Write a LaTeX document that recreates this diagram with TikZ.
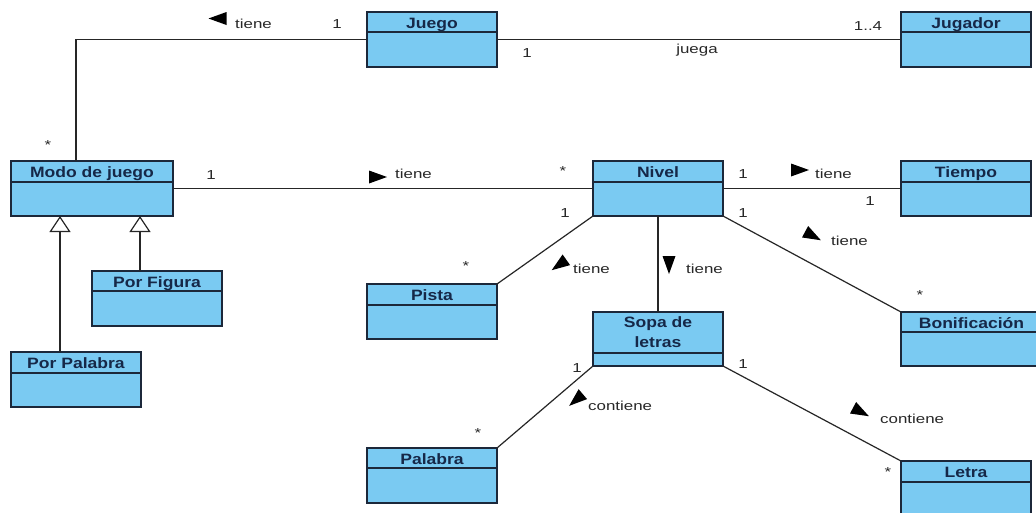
\documentclass[tikz,border=0pt]{standalone}
\usepackage{fontspec}
\setmainfont{Liberation Sans}
\newfontfamily\titlefont[FakeStretch=1.17]{Liberation Sans}
\newfontfamily\labelfont[FakeStretch=1.3]{Liberation Sans}
\usetikzlibrary{arrows.meta}

\definecolor{classfill}{RGB}{122,202,242}
\definecolor{classedge}{RGB}{28,40,58}
\definecolor{titleink}{RGB}{22,40,72}
\definecolor{labelink}{RGB}{40,40,40}

\tikzset{
  classbox/.style={draw=classedge, fill=classfill, line width=1.4pt,
    inner sep=0pt, outer sep=0pt, anchor=north west},
  classdiv/.style={draw=classedge, line width=1.2pt},
  classtitle/.style={font=\titlefont\bfseries\fontsize{15}{20}\selectfont,
    text=titleink, inner sep=0pt, align=center, anchor=base},
  assoc/.style={line width=1.2pt, draw=black!85},
  lbl/.style={font=\labelfont\fontsize{13}{13}\selectfont, text=labelink,
    inner sep=0pt, anchor=base west},
  mult/.style={font=\labelfont\fontsize{13}{13}\selectfont, text=labelink,
    inner sep=0pt, anchor=base},
  gen/.style={assoc, -{Triangle[open, length=16pt, width=21pt, fill=white]}},
  dirarrow/.pic={\fill[black] (9,0) -- (-9,6.5) -- (-9,-6.5) -- cycle;}
}

% class box: name, left, top, right, bottom, divider y, baseline of last title line, title
\newcommand{\umlclass}[8]{%
  \node[classbox, minimum width={#4-#2}, minimum height={#5-#3}] (#1) at (#2,#3) {};
  \draw[classdiv] (#2,#6) -- (#4,#6);
  \node[classtitle] (#1-title) at ({(#2+#4)/2},{#7}) {#8};
}

\begin{document}
\begin{tikzpicture}[x=1pt,y=-1pt]
\useasboundingbox (0,0) rectangle (1036,512);
\clip (0,0) rectangle (1036,512);
\fill[white] (0,0) rectangle (1036,512);

% classes
\umlclass{juego}{367}{12}{497}{67}{32}{28.5}{Juego}
\umlclass{jugador}{901}{12}{1031}{67}{32}{28.5}{Jugador}
\umlclass{modo}{11}{161}{173}{216}{182}{177.5}{Modo de juego}
\umlclass{nivel}{593}{161}{723}{216}{182}{177.5}{Nivel}
\umlclass{tiempo}{901}{161}{1031}{216}{182}{177.5}{Tiempo}
\umlclass{figura}{92}{271}{222}{326}{291}{287.5}{Por Figura}
\umlclass{porpalabra}{11}{352}{141}{407}{373}{368.5}{Por Palabra}
\umlclass{pista}{367}{284}{497}{339}{305}{300.5}{Pista}
\umlclass{sopa}{593}{312}{723}{366}{353}{347.5}{Sopa de\\letras}
\umlclass{bonif}{901}{312}{1042}{366}{332}{328.5}{Bonificación}
\umlclass{palabra}{367}{448}{497}{503}{468}{464.5}{Palabra}
\umlclass{letra}{901}{461}{1031}{516}{482}{477.5}{Letra}

% associations
\draw[assoc] (juego.east) -- (jugador.west);
\draw[assoc] (juego.west) -| ([xshift=-16pt]modo.north);
\draw[assoc] (modo.east) -- (nivel.west);
\draw[assoc] (nivel.east) -- (tiempo.west);
\draw[assoc] (nivel.south west) -- (pista.north east);
\draw[assoc] (nivel.south) -- (sopa.north);
\draw[assoc] (nivel.south east) -- (bonif.north west);
\draw[assoc] (sopa.south west) -- (palabra.north east);
\draw[assoc] (sopa.south east) -- (letra.north west);

% generalizations
\coordinate (g1) at ([xshift=-16pt]porpalabra.north);
\coordinate (g2) at ([xshift=-17pt]figura.north);
\draw[gen] (g1) -- (g1 |- modo.south);
\draw[gen] (g2) -- (g2 |- modo.south);

% reading-direction marks
\pic[rotate=180] at (217.5,18.5) {dirarrow};
\pic at (378,177) {dirarrow};
\pic at (800,170) {dirarrow};
\pic[rotate=-90] at (669,265) {dirarrow};
\pic[rotate=-28.3] at (813,236) {dirarrow};
\pic[rotate=-144.7] at (559,265) {dirarrow};
\pic[rotate=-139.5] at (576,400) {dirarrow};
\pic[rotate=-28.1] at (861,412) {dirarrow};

% association names
\node[lbl] (l1) at (235,28) {tiene};
\node[mult] (l2) at (697,53) {juega};
\node[lbl] (l3) at (395,178) {tiene};
\node[lbl] (l4) at (815,178) {tiene};
\node[lbl] (l5) at (831,245) {tiene};
\node[lbl] (l6) at (573,273) {tiene};
\node[lbl] (l7) at (686,273) {tiene};
\node[lbl] (l8) at (588,410) {contiene};
\node[lbl] (l9) at (880,423) {contiene};

% multiplicities
\node[mult] (m1) at (337,28) {1};
\node[mult] (m2) at (527,57) {1};
\node[mult] (m3) at (868,30) {1..4};
\node[mult] (m4) at (48,149) {*};
\node[mult] (m5) at (211,179) {1};
\node[mult] (m6) at (563,175) {*};
\node[mult] (m7) at (743,178) {1};
\node[mult] (m8) at (870,205) {1};
\node[mult] (m9) at (565,217) {1};
\node[mult] (m10) at (743,217) {1};
\node[mult] (m11) at (466,270) {*};
\node[mult] (m12) at (920,299) {*};
\node[mult] (m13) at (577,372) {1};
\node[mult] (m14) at (743,368) {1};
\node[mult] (m15) at (478,437) {*};
\node[mult] (m16) at (888,476) {*};
\end{tikzpicture}
\end{document}
